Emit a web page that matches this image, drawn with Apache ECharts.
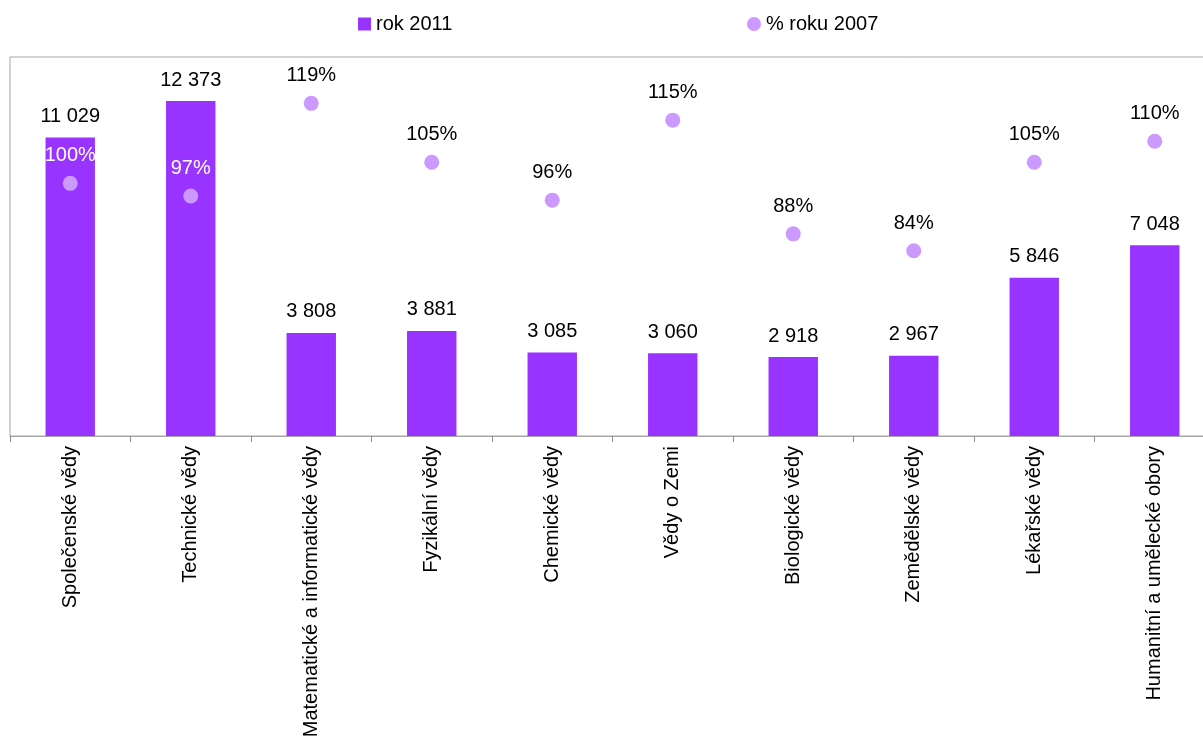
<!DOCTYPE html>
<html>
<head>
<meta charset="utf-8">
<script src="https://cdn.jsdelivr.net/npm/echarts@6/dist/echarts.min.js"></script>
<style>
html,body{margin:0;padding:0;background:#fff;}
#chart{width:1203px;height:756px;}
</style>
</head>
<body>
<div id="chart"></div>
<script>
const categories = ['Společenské vědy','Technické vědy','Matematické a informatické vědy','Fyzikální vědy','Chemické vědy','Vědy o Zemi','Biologické vědy','Zemědělské vědy','Lékařské vědy','Humanitní a umělecké obory'];
const rok2011 = [11029, 12373, 3808, 3881, 3085, 3060, 2918, 2967, 5846, 7048];
const pct2007 = [100, 97, 119, 105, 96, 115, 88, 84, 105, 110];
const whiteLabelIdx = [0, 1];

const FONT = '"Liberation Sans", Arial, sans-serif';
const chart = echarts.init(document.getElementById('chart'), null, {renderer:'canvas'});
function fmtNum(v){ return String(v).replace(/\B(?=(\d{3})+(?!\d))/g, ' '); }

chart.setOption({
  animation: false,
  backgroundColor: '#fff',
  textStyle: {fontFamily: FONT},
  legend: [
    {data: [{name:'rok 2011', icon:'rect'}], left: 353, top: 9, itemWidth: 13, itemHeight: 13,
     textStyle: {fontSize: 20, color: '#000', fontFamily: FONT}},
    {data: [{name:'% roku 2007', icon:'circle'}], left: 742, top: 9, itemWidth: 14, itemHeight: 14,
     textStyle: {fontSize: 20, color: '#000', fontFamily: FONT}}
  ],
  grid: {left: 10, top: 57, right: -12, bottom: 320, show: true, borderColor: '#A6A6A6', borderWidth: 1,
         containLabel: false, outerBoundsMode: 'none'},
  xAxis: {
    type: 'category', data: categories, boundaryGap: true,
    axisLine: {lineStyle: {color: '#A6A6A6', width: 1}},
    axisTick: {show: true, length: 6, lineStyle: {color: '#8C8C8C'}},
    axisLabel: {rotate: 90, interval: 0, fontSize: 20, color: '#000', margin: 10, fontFamily: FONT, hideOverlap: false}
  },
  yAxis: [
    {type: 'value', min: 0, max: 14000, show: false, splitLine: {show: false}},
    {type: 'value', min: 40, max: 130, show: false, splitLine: {show: false}}
  ],
  series: [
    {
      name: 'rok 2011', type: 'bar', data: rok2011, yAxisIndex: 0, barWidth: '41%',
      itemStyle: {color: '#9933FF'},
      label: {show: true, position: 'top', distance: 11, fontSize: 20, color: '#000', fontFamily: FONT,
        formatter: p => fmtNum(p.value)}
    },
    {
      name: '% roku 2007', type: 'scatter', yAxisIndex: 1, symbolSize: 15,
      data: pct2007.map((v, i) => ({value: v, label: {color: whiteLabelIdx.includes(i) ? '#fff' : '#000'}})),
      itemStyle: {color: '#CC99FF', opacity: 1},
      label: {show: true, position: 'top', distance: 10, fontSize: 20, fontFamily: FONT,
        formatter: p => p.value + '%'}
    }
  ]
});
</script>
</body>
</html>
